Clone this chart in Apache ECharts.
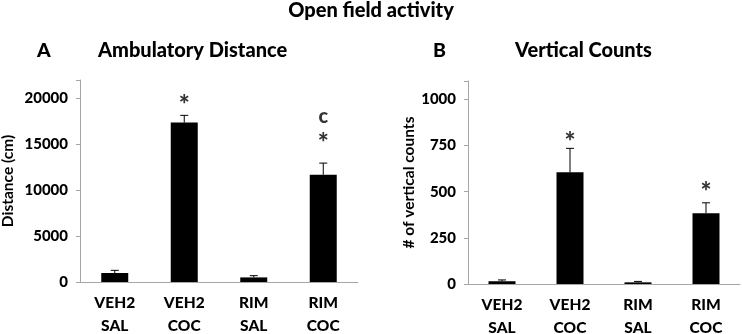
<!DOCTYPE html>
<html><head><meta charset="utf-8">
<script src="https://cdn.jsdelivr.net/npm/echarts@6/dist/echarts.min.js"></script>
<style>html,body{margin:0;padding:0;background:#fff}#c{width:742px;height:334px}</style>
</head><body><div id="c"></div>
<script>
const categories = ['VEH2\nSAL', 'VEH2\nCOC', 'RIM\nSAL', 'RIM\nCOC'];
const distValues = [980, 17360, 500, 11680];
const distErrors = [290, 790, 190, 1270];
const distTicks = [0, 5000, 10000, 15000, 20000];
const distMarks = ['', '*', '', '*'];
const distMarkY = [0, 19900, 0, 15750];
const distExtra = ['', '', '', 'c'];
const distExtraY = [0, 0, 0, 18260];
const vertValues = [15, 605, 9, 384];
const vertErrors = [7, 130, 5, 56];
const vertTicks = [0, 250, 500, 750, 1000];
const vertMarks = ['', '*', '', '*'];
const vertMarkY = [0, 801, 0, 528];

const FONT = 'Lato';
const W = 900;
const chart = echarts.init(document.getElementById('c'));

function errSeries(xi, yi, vals, errs) {
  return {
    type: 'custom', xAxisIndex: xi, yAxisIndex: yi, z: 3,
    data: vals.map((v, i) => [i, v, v + errs[i]]),
    renderItem: function (params, api) {
      const p0 = api.coord([api.value(0), api.value(1)]);
      const p1 = api.coord([api.value(0), api.value(2)]);
      const st = { stroke: '#000', lineWidth: 1 };
      return { type: 'group', children: [
        { type: 'line', shape: { x1: p0[0], y1: p0[1], x2: p1[0], y2: p1[1] }, style: st },
        { type: 'line', shape: { x1: p1[0] - 4, y1: p1[1], x2: p1[0] + 4, y2: p1[1] }, style: st }
      ]};
    }
  };
}
function markSeries(xi, yi, texts, ys, size, dy) {
  return {
    type: 'scatter', xAxisIndex: xi, yAxisIndex: yi, symbolSize: 0, z: 4,
    data: texts.map((t, i) => ({ value: [i, ys[i]], t: t })).filter(d => d.t !== ''),
    label: { show: true, position: 'inside', offset: [0, dy], formatter: p => p.data.t,
      fontFamily: FONT, fontWeight: W, fontSize: size, color: '#000' },
    silent: true
  };
}
function yAxis(gi, max, ticks, name, gap) {
  return {
    gridIndex: gi, type: 'value', min: 0, max: max, interval: ticks[1] - ticks[0],
    name: name, nameLocation: 'middle', nameGap: gap, nameRotate: 90,
    nameTextStyle: { fontFamily: FONT, fontWeight: 'bold', fontSize: 15.5, color: '#000' },
    axisLine: { show: true, lineStyle: { color: '#a6a6a6', width: 1 } },
    axisTick: { show: true, length: 4, lineStyle: { color: '#a6a6a6' } },
    splitLine: { show: false },
    axisLabel: { fontFamily: FONT, fontWeight: W, fontSize: 15, color: '#000', margin: 12,
      formatter: v => ticks.indexOf(v) >= 0 ? String(v) : '' }
  };
}
function xAxis(gi) {
  return {
    gridIndex: gi, type: 'category', data: categories,
    axisLine: { lineStyle: { color: '#a6a6a6', width: 1 } },
    axisTick: { show: false },
    axisLabel: { fontFamily: FONT, fontWeight: W, fontSize: 15.5, color: '#000', margin: 9, lineHeight: 23 }
  };
}
const tStyle = (s) => ({ fontFamily: FONT, fontWeight: W, fontSize: s, color: '#000' });
chart.setOption({
  animation: false,
  title: [
    { text: 'Open field activity', left: 'center', top: 1, padding: 0, textStyle: tStyle(20) },
    { text: 'A', left: 37, top: 41, padding: 0, textStyle: tStyle(19.5) },
    { text: 'Ambulatory Distance', left: 98, top: 41, padding: 0, textStyle: tStyle(20) },
    { text: 'B', left: 433, top: 41, padding: 0, textStyle: tStyle(19.5) },
    { text: 'Vertical Counts', left: 515, top: 41, padding: 0, textStyle: tStyle(20) }
  ],
  grid: [
    { left: 80, right: 384, top: 80, bottom: 52, outerBoundsMode: 'none', containLabel: false },
    { left: 468, right: 2, top: 81, bottom: 50, outerBoundsMode: 'none', containLabel: false }
  ],
  xAxis: [xAxis(0), xAxis(1)],
  yAxis: [yAxis(0, 22000, distTicks, 'Distance (cm)', 64), yAxis(1, 1100, vertTicks, '# of vertical counts', 47)],
  series: [
    { type: 'bar', xAxisIndex: 0, yAxisIndex: 0, data: distValues, barWidth: 27, itemStyle: { color: '#000' } },
    { type: 'bar', xAxisIndex: 1, yAxisIndex: 1, data: vertValues, barWidth: 27, itemStyle: { color: '#000' } },
    errSeries(0, 0, distValues, distErrors),
    errSeries(1, 1, vertValues, vertErrors),
    markSeries(0, 0, distMarks, distMarkY, 26, 6),
    markSeries(0, 0, distExtra, distExtraY, 20, 2),
    markSeries(1, 1, vertMarks, vertMarkY, 26, 6)
  ]
});
</script></body></html>
